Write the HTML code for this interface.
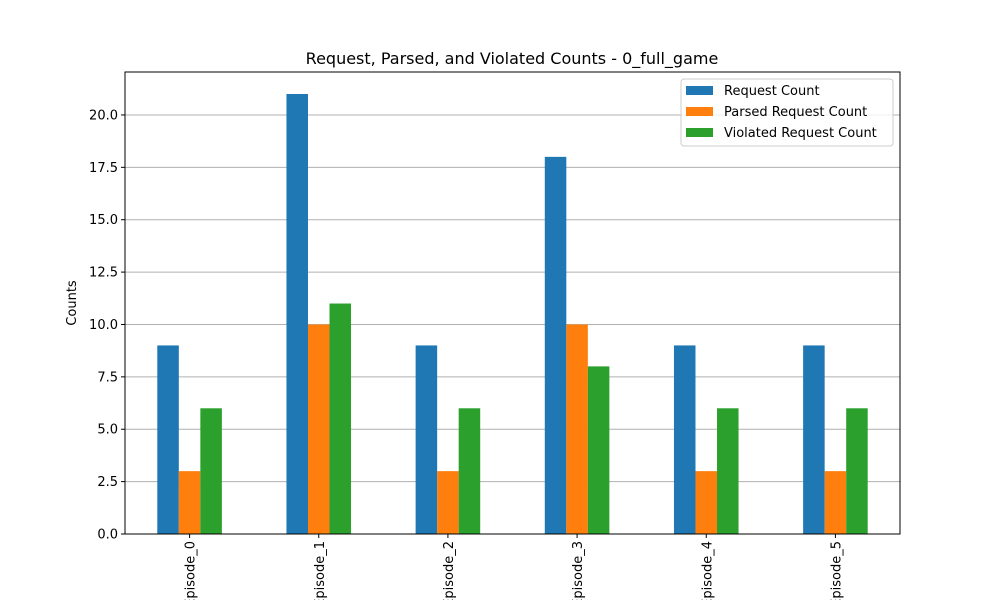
<!DOCTYPE html>
<html><head><meta charset="utf-8"><style>
body{margin:0;background:#fff;}
svg{font-family:"DejaVu Sans","Liberation Sans",sans-serif;}
</style></head><body>
<svg id="chart" width="1000" height="600">
<text x="512" y="64" text-anchor="middle" font-size="16">Request, Parsed, and Violated Counts - 0_full_game</text>
<text transform="translate(76,303) rotate(-90)" text-anchor="middle" font-size="13">Counts</text>
<g id="grid"></g><g id="bars"></g><g id="ticks"></g>
<rect x="125" y="72" width="775" height="462" fill="none" stroke="#000" stroke-width="1"/>
<g>
<rect x="681" y="79" width="212" height="67" rx="3" fill="#fff" fill-opacity="0.8" stroke="#ccc"/>
<g><rect x="686" y="86" width="27" height="9" fill="#1f77b4"/><text x="724" y="95" font-size="13">Request Count</text></g>
<g><rect x="686" y="107" width="27" height="9" fill="#ff7f0e"/><text x="724" y="116" font-size="13">Parsed Request Count</text></g>
<g><rect x="686" y="128" width="27" height="9" fill="#2ca02c"/><text x="724" y="137" font-size="13">Violated Request Count</text></g>
</g>
</svg>
<script>
const categories=["Episode_0","Episode_1","Episode_2","Episode_3","Episode_4","Episode_5"];
const requestCounts=[9,21,9,18,9,9];
const parsedCounts=[3,10,3,10,3,3];
const violatedCounts=[6,11,6,8,6,6];
const yTicks=[0,2.5,5,7.5,10,12.5,15,17.5,20];
const yTickLabels=["0.0","2.5","5.0","7.5","10.0","12.5","15.0","17.5","20.0"];
const NS="http://www.w3.org/2000/svg";
const L=125,R=900,T=72,B=534,yMax=22.05;
const y=v=>B-v/yMax*(B-T);
const band=(R-L)/categories.length;
const xc=i=>L+band*(i+0.5);
const bw=band*0.5/3;
function mk(t,a,p){const e=document.createElementNS(NS,t);for(const k in a)e.setAttribute(k,a[k]);p.appendChild(e);return e;}
const grid=document.getElementById('grid'),bars=document.getElementById('bars'),ticks=document.getElementById('ticks');
yTicks.forEach((v,i)=>{
 const g=mk('line',{x1:L,x2:R,y1:y(v),y2:y(v),stroke:'#b0b0b0','stroke-width':1},grid);
 
 
 mk('line',{x1:L-4,x2:L,y1:y(v),y2:y(v),stroke:'#000'},ticks);
 const t=mk('text',{x:L-7,y:y(v)+4.5,'text-anchor':'end','font-size':13},ticks);
 t.textContent=yTickLabels[i];
 
 
});
const series=[[requestCounts,'#1f77b4','request'],[parsedCounts,'#ff7f0e','parsed'],[violatedCounts,'#2ca02c','violated']];
categories.forEach((c,i)=>{
 series.forEach((s,j)=>{
  const v=s[0][i];
  const r=mk('rect',{x:xc(i)-1.5*bw+j*bw,y:y(v),width:bw,height:B-y(v),fill:s[1]},bars);
  
  
 });
 mk('line',{x1:xc(i),x2:xc(i),y1:B,y2:B+4,stroke:'#000'},ticks);
 const t=mk('text',{transform:`translate(${xc(i)+5},${B+7}) rotate(-90)`,'text-anchor':'end','font-size':13},ticks);
 t.textContent=c;
 
 
});
</script>
</body></html>
